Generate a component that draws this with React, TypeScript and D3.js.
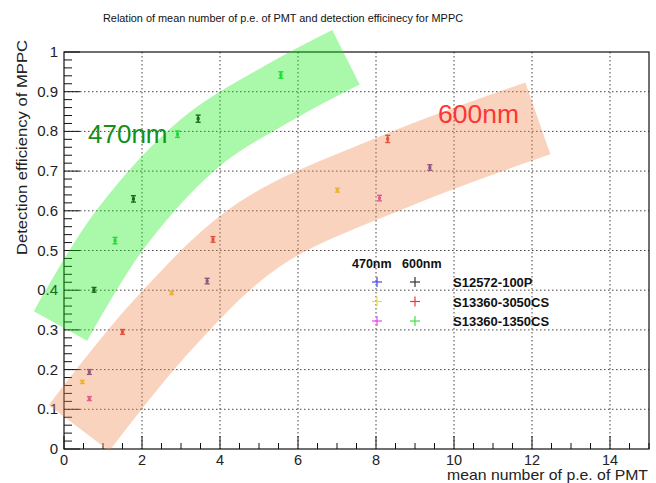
import React from "react";
import * as d3 from "d3";

const TITLE = "Relation of mean number of p.e. of PMT and detection efficinecy for MPPC";
const X_TITLE = "mean number of p.e. of PMT";
const Y_TITLE = "Detection efficiency of MPPC";

const X_TICKS = [0, 2, 4, 6, 8, 10, 12, 14];
const Y_TICKS = [0, 0.1, 0.2, 0.3, 0.4, 0.5, 0.6, 0.7, 0.8, 0.9, 1];

// series: [x, y, err]
const S12572_600 = [[0.77, 0.401, 0.006], [1.78, 0.63, 0.008], [3.44, 0.832, 0.009]];
const S1350_600 = [[1.31, 0.525, 0.008], [2.91, 0.793, 0.008], [5.56, 0.942, 0.008]];
const S3050_600 = [[1.5, 0.295, 0.006], [3.82, 0.528, 0.007], [8.3, 0.781, 0.009]];
const S3050_470 = [[0.47, 0.169, 0.004], [2.76, 0.393, 0.004], [7.01, 0.652, 0.005]];
const S12572_470 = [[0.65, 0.194, 0.006], [3.67, 0.423, 0.007], [9.38, 0.709, 0.007]];
const S1350_470 = [[0.65, 0.127, 0.005], [8.09, 0.632, 0.007]];

const SERIES = [
  { data: S12572_600, color: "#1d2a1d" },
  { data: S1350_600, color: "#22d84a" },
  { data: S3050_600, color: "#d83535" },
  { data: S3050_470, color: "#e6cf22" },
  { data: S12572_470, color: "#5a3c9c" },
  { data: S1350_470, color: "#dc45b8" },
];

// decorative bands (centerlines in data units)
const GREEN_BAND = [[-0.09, 0.31], [1.44, 0.553], [3.49, 0.771], [5.54, 0.899], [7.23, 0.987]];
const SALMON_BAND = [[0.385, 0.053], [2.6, 0.32], [5.0, 0.54], [8.5, 0.7], [12.15, 0.833]];

const LEGEND_ROWS = ["S12572-100P", "S13360-3050CS", "S13360-1350CS"];
const LEGEND_470 = ["#4a46ee", "#e4e436", "#ee46ee"];
const LEGEND_600 = ["#333333", "#ee3a3a", "#46dd46"];

const W = 656, H = 483;
const L = 64, R = 649, T = 52, B = 449;

export default function App() {
  const x = d3.scaleLinear().domain([0, 15]).range([L, R]);
  const y = d3.scaleLinear().domain([0, 1]).range([B, T]);
  const line = d3.line<number[]>().x((d) => x(d[0])).y((d) => y(d[1])).curve(d3.curveCatmullRom.alpha(0.5));

  const xMinor = d3.range(0, 15.01, 0.5);
  const yMinor = d3.range(0, 1.001, 0.02);
  const font = "'Liberation Sans', Arial, Helvetica, sans-serif";

  return (
    <svg width={W} height={H} style={{ position: "absolute", left: 0, top: 0, background: "#fff" }} fontFamily={font}>
      <rect x={0} y={0} width={W} height={H} fill="#fff" />
      {/* grid */}
      {X_TICKS.filter((t) => t > 0).map((t) => (
        <line key={"gx" + t} x1={x(t)} x2={x(t)} y1={T} y2={B} stroke="#444" strokeWidth={1} strokeDasharray="1.5 2.5" />
      ))}
      {Y_TICKS.filter((t) => t > 0 && t < 1).map((t) => (
        <line key={"gy" + t} x1={L} x2={R} y1={y(t)} y2={y(t)} stroke="#444" strokeWidth={1} strokeDasharray="1.5 2.5" />
      ))}
      {/* frame */}
      <rect x={L} y={T} width={R - L} height={B - T} fill="none" stroke="#111" strokeWidth={1.2} />
      {/* ticks */}
      {xMinor.map((t, i) => {
        const major = Math.abs(t / 2 - Math.round(t / 2)) < 1e-6;
        return <line key={"xt" + i} x1={x(t)} x2={x(t)} y1={B} y2={B - (major ? 13 : 6)} stroke="#111" strokeWidth={1} />;
      })}
      {yMinor.map((t, i) => {
        const major = Math.abs(t * 10 - Math.round(t * 10)) < 1e-6;
        return <line key={"yt" + i} x1={L} x2={L + (major ? 16 : 8)} y1={y(t)} y2={y(t)} stroke="#111" strokeWidth={1} />;
      })}
      {/* tick labels */}
      {X_TICKS.map((t) => (
        <text key={"xl" + t} x={x(t)} y={465} fontSize={14.5} textAnchor="middle" fill="#222">{t}</text>
      ))}
      {Y_TICKS.map((t) => (
        <text key={"yl" + t} x={58} y={y(t) + 5} fontSize={15} textAnchor="end" fill="#222">{d3.format("~g")(t)}</text>
      ))}
      {/* titles */}
      <text x={103} y={22} fontSize={11.5} textLength={360} lengthAdjust="spacingAndGlyphs" fill="#111">{TITLE}</text>
      <text x={447} y={480} fontSize={14.5} textLength={201} lengthAdjust="spacingAndGlyphs" fill="#222">{X_TITLE}</text>
      <text transform="translate(27,255) rotate(-90)" fontSize={15} textLength={215} lengthAdjust="spacingAndGlyphs" fill="#222">{Y_TITLE}</text>
      {/* data */}
      {SERIES.map((s, si) =>
        s.data.map((d, i) => {
          const cx = x(d[0]);
          const y1 = y(d[1] + d[2]);
          const y2 = y(d[1] - d[2]);
          return (
            <g key={si + "-" + i} stroke={s.color} fill={s.color}>
              <line x1={cx} x2={cx} y1={y1} y2={y2} strokeWidth={1.6} />
              <line x1={cx - 2.5} x2={cx + 2.5} y1={y1} y2={y1} strokeWidth={1.4} />
              <line x1={cx - 2.5} x2={cx + 2.5} y1={y2} y2={y2} strokeWidth={1.4} />
              <rect x={cx - 1.5} y={y(d[1]) - 1.5} width={3} height={3} stroke="none" />
            </g>
          );
        })
      )}
      {/* bands */}
      <path d={line(GREEN_BAND) || ""} fill="none" stroke="rgb(12,235,12)" strokeOpacity={0.35} strokeWidth={61} strokeLinecap="butt" />
      <path d={line(SALMON_BAND) || ""} fill="none" stroke="rgb(241,132,75)" strokeOpacity={0.36} strokeWidth={76} strokeLinecap="butt" />
      {/* band labels */}
      <text x={88} y={143} fontSize={26} fill="#14901a">470nm</text>
      <text x={438} y={123} fontSize={26.5} fill="#ff3535">600nm</text>
      {/* legend */}
      <text x={352} y={268} fontSize={12.5} fontWeight="bold" fill="#111">470nm</text>
      <text x={402} y={268} fontSize={12.5} fontWeight="bold" fill="#111">600nm</text>
      {LEGEND_ROWS.map((name, i) => {
        const ry = 282 + i * 19.5;
        return (
          <g key={name}>
            <g stroke={LEGEND_470[i]} strokeWidth={1.2}>
              <line x1={372} x2={382} y1={ry} y2={ry} />
              <line x1={377} x2={377} y1={ry - 5} y2={ry + 5} />
            </g>
            <g stroke={LEGEND_600[i]} strokeWidth={1.2}>
              <line x1={410} x2={420} y1={ry} y2={ry} />
              <line x1={415} x2={415} y1={ry - 5} y2={ry + 5} />
            </g>
            <text x={453} y={ry + 5} fontSize={13} fontWeight="bold" fill="#111">{name}</text>
          </g>
        );
      })}
    </svg>
  );
}
